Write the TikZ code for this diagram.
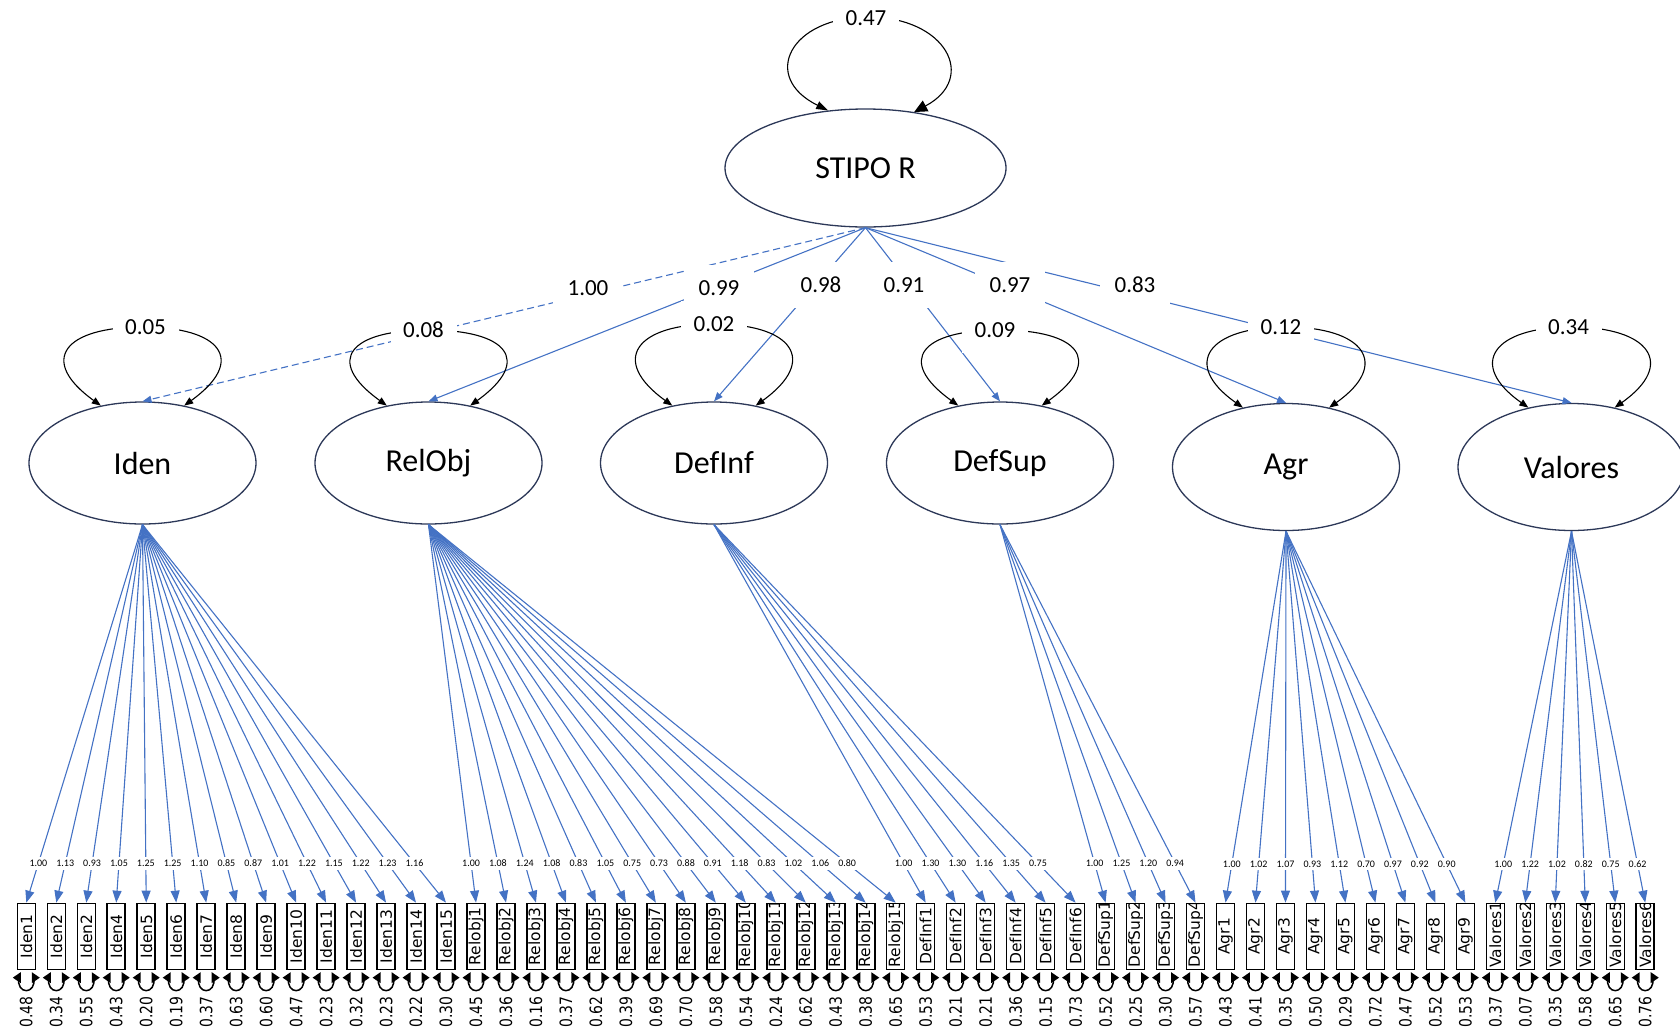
\documentclass[tikz,border=0pt]{standalone}
\usepackage{fontspec}
\usepackage{graphicx}
\setmainfont{Carlito}
\newfontfamily\itemfont{DejaVu Sans}
\usetikzlibrary{arrows.meta,calc,shapes.geometric}

\definecolor{pathblue}{RGB}{68,114,196}
\definecolor{rimnavy}{RGB}{44,56,88}

\newcommand{\boxlabfont}{\itemfont\fontsize{15.5}{18}\selectfont}
\newcommand{\residfont}{\itemfont\fontsize{17}{19}\selectfont}

\tikzset{
  latent/.style={ellipse, draw=rimnavy, line width=1.3pt, fill=white,
    minimum width=227pt, minimum height=122pt, inner sep=0pt,
    font=\fontsize{32}{38}\selectfont},
  obsbox/.style={rectangle, draw=black, line width=1.5pt, fill=white,
    minimum width=18pt, minimum height=66pt, inner sep=0pt},
  struct/.style={draw=pathblue, line width=1.1pt, -{Triangle[length=9pt,width=7pt]}},
  loading/.style={draw=pathblue, line width=1.1pt, -{Triangle[length=12pt,width=9pt]}},
  varloop/.style={draw=black, line width=1.1pt,
    {Triangle[length=9pt,width=7pt]}-{Triangle[length=9pt,width=7pt]}},
  residloop/.style={draw=black, line width=1.5pt},
  residtip/.style={fill=black},
  pathlab/.style={fill=white, inner sep=0pt, minimum width=70pt, minimum height=46pt,
    font=\fontsize{23}{27}\selectfont},
  varlab/.style={fill=white, inner sep=0pt, minimum width=66pt, minimum height=46pt,
    font=\fontsize{23}{27}\selectfont},
  loadlab/.style={fill=white, inner xsep=2pt, inner ysep=3pt,
    font=\fontsize{10}{12}\selectfont},
}

% index / factor / item / loading / residual variance
\def\itemlist{0/iden/Iden1/1.00/0.48, 1/iden/Iden2/1.13/0.34, 2/iden/Iden2/0.93/0.55,
 3/iden/Iden4/1.05/0.43, 4/iden/Iden5/1.25/0.20, 5/iden/Iden6/1.25/0.19,
 6/iden/Iden7/1.10/0.37, 7/iden/Iden8/0.85/0.63, 8/iden/Iden9/0.87/0.60,
 9/iden/Iden10/1.01/0.47, 10/iden/Iden11/1.22/0.23, 11/iden/Iden12/1.15/0.32,
 12/iden/Iden13/1.22/0.23, 13/iden/Iden14/1.23/0.22, 14/iden/Iden15/1.16/0.30,
 15/relobj/Relobj1/1.00/0.45, 16/relobj/Relobj2/1.08/0.36, 17/relobj/Relobj3/1.24/0.16,
 18/relobj/Relobj4/1.08/0.37, 19/relobj/Relobj5/0.83/0.62, 20/relobj/Relobj6/1.05/0.39,
 21/relobj/Relobj7/0.75/0.69, 22/relobj/Relobj8/0.73/0.70, 23/relobj/Relobj9/0.88/0.58,
 24/relobj/Relobj10/0.91/0.54, 25/relobj/Relobj11/1.18/0.24, 26/relobj/Relobj12/0.83/0.62,
 27/relobj/Relobj13/1.02/0.43, 28/relobj/Relobj14/1.06/0.38, 29/relobj/Relobj15/0.80/0.65,
 30/definf/DefInf1/1.00/0.53, 31/definf/DefInf2/1.30/0.21, 32/definf/DefInf3/1.30/0.21,
 33/definf/DefInf4/1.16/0.36, 34/definf/DefInf5/1.35/0.15, 35/definf/DefInf6/0.75/0.73,
 36/defsup/DefSup1/1.00/0.52, 37/defsup/DefSup2/1.25/0.25, 38/defsup/DefSup3/1.20/0.30,
 39/defsup/DefSup4/0.94/0.57,
 40/agr/Agr1/1.00/0.43, 41/agr/Agr2/1.02/0.41, 42/agr/Agr3/1.07/0.35,
 43/agr/Agr4/0.93/0.50, 44/agr/Agr5/1.12/0.29, 45/agr/Agr6/0.70/0.72,
 46/agr/Agr7/0.97/0.47, 47/agr/Agr8/0.92/0.52, 48/agr/Agr9/0.90/0.53,
 49/valores/Valores1/1.00/0.37, 50/valores/Valores2/1.22/0.07, 51/valores/Valores3/1.02/0.35,
 52/valores/Valores4/0.82/0.58, 53/valores/Valores5/0.75/0.65, 54/valores/Valores6/0.62/0.76}

\begin{document}
\begin{tikzpicture}[x=1pt,y=-1pt]
\useasboundingbox (0,0) rectangle (1680,1034);
\clip (0,0) rectangle (1680,1034);

% second-order factor and first-order factors
\node[latent, minimum width=281pt, minimum height=118pt] (stipo) at (865.5,168) {STIPO R};
\node[latent] (iden)    at (142.5,463) {Iden};
\node[latent] (relobj)  at (428.5,463) {RelObj};
\node[latent] (definf)  at (714,463)   {DefInf};
\node[latent] (defsup)  at (1000,463)  {DefSup};
\node[latent, minimum height=127pt] (agr)     at (1286,467)   {Agr};
\node[latent, minimum height=127pt] (valores) at (1571.5,467) {Valores};

% observed indicators
\foreach \i/\lat/\txt/\ld/\rs in \itemlist {
  \node[obsbox, path picture={
      \node[rotate=90, inner sep=0pt, font=\boxlabfont]
        at (path picture bounding box.center) {\hbox to 62pt{\hfil\txt\hfil}};
    }] (o\i) at ({26.3+29.98*\i},936.4) {};
}

% second-order paths
\draw[struct, dash pattern=on 7pt off 4pt] (stipo.south) -- (iden.north);
\draw[struct] (stipo.south) -- (relobj.north);
\draw[struct] (stipo.south) -- (definf.north);
\draw[struct] (stipo.south) -- (defsup.north);
\draw[struct] (stipo.south) -- (agr.north);
\draw[struct] (stipo.south) -- (valores.north);

% variance of the second-order factor
\draw[draw=black, line width=1.1pt,
  {Triangle[length=12pt,width=8pt]}-{Triangle[length=13pt,width=12pt]}]
  (stipo.123) .. controls (760,77) and (790,17) .. (868,17)
  .. controls (946,17) and (978,78) .. (stipo.49);

% disturbance variances of the first-order factors
\foreach \n/\t in {iden/-136, relobj/-133, definf/-139, defsup/-133, agr/-140, valores/-140} {
  \draw[varloop] (\n.126)
    .. controls ($(\n.center)+(-105,-103)$) and ($(\n.center)+(-78,\t)$) .. ($(\n.center)+(0,\t)$)
    .. controls ($(\n.center)+(78,\t)$) and ($(\n.center)+(105,-103)$) .. (\n.54);
}

% factor loadings and residual variances
\foreach \i/\lat/\txt/\ld/\rs in \itemlist {
  \draw[loading] (\lat.south) -- (o\i.north);
  \draw[residloop] ($(o\i.south)+(-7.5,7)$) .. controls +(-3,18) and +(3,18) .. ($(o\i.south)+(7.5,7)$);
  \fill[residtip] ($(o\i.south)+(-13.5,7.5)$) -- +(8,-5.5) -- +(8,5.5) -- cycle;
  \fill[residtip] ($(o\i.south)+(13.5,7.5)$) -- +(-8,-5.5) -- +(-8,5.5) -- cycle;
  \node[rotate=90, inner sep=0pt, font=\residfont] (r\i) at ($(o\i.south)+(0,42)$)
    {\scalebox{0.82}[1]{\rs}};
}

% coefficient labels
\node[pathlab] (c1) at (588,288)  {1.00};
\node[pathlab] (c2) at (719,288)  {0.99};
\node[pathlab] (c3) at (821,285)  {0.98};
\node[pathlab] (c4) at (904,285)  {0.91};
\node[pathlab] (c5) at (1010,285) {0.97};
\node[pathlab] (c6) at (1135,285) {0.83};

\node[varlab] (v0) at (866,18) {0.47};
\foreach \n/\dx/\t/\v in {iden/3/-136/0.05, relobj/-5/-133/0.08, definf/0/-139/0.02,
                          defsup/-5/-133/0.09, agr/-5/-140/0.12, valores/-3/-140/0.34} {
  \node[varlab] (v\n) at ($(\n.center)+(\dx,\t)$) {\v};
}

\foreach \i/\lat/\txt/\ld/\rs in \itemlist {
  \path (\lat.south) -- (o\i.north) node[pos=0.896, loadlab] (l\i) {\ld};
}
\end{tikzpicture}
\end{document}
